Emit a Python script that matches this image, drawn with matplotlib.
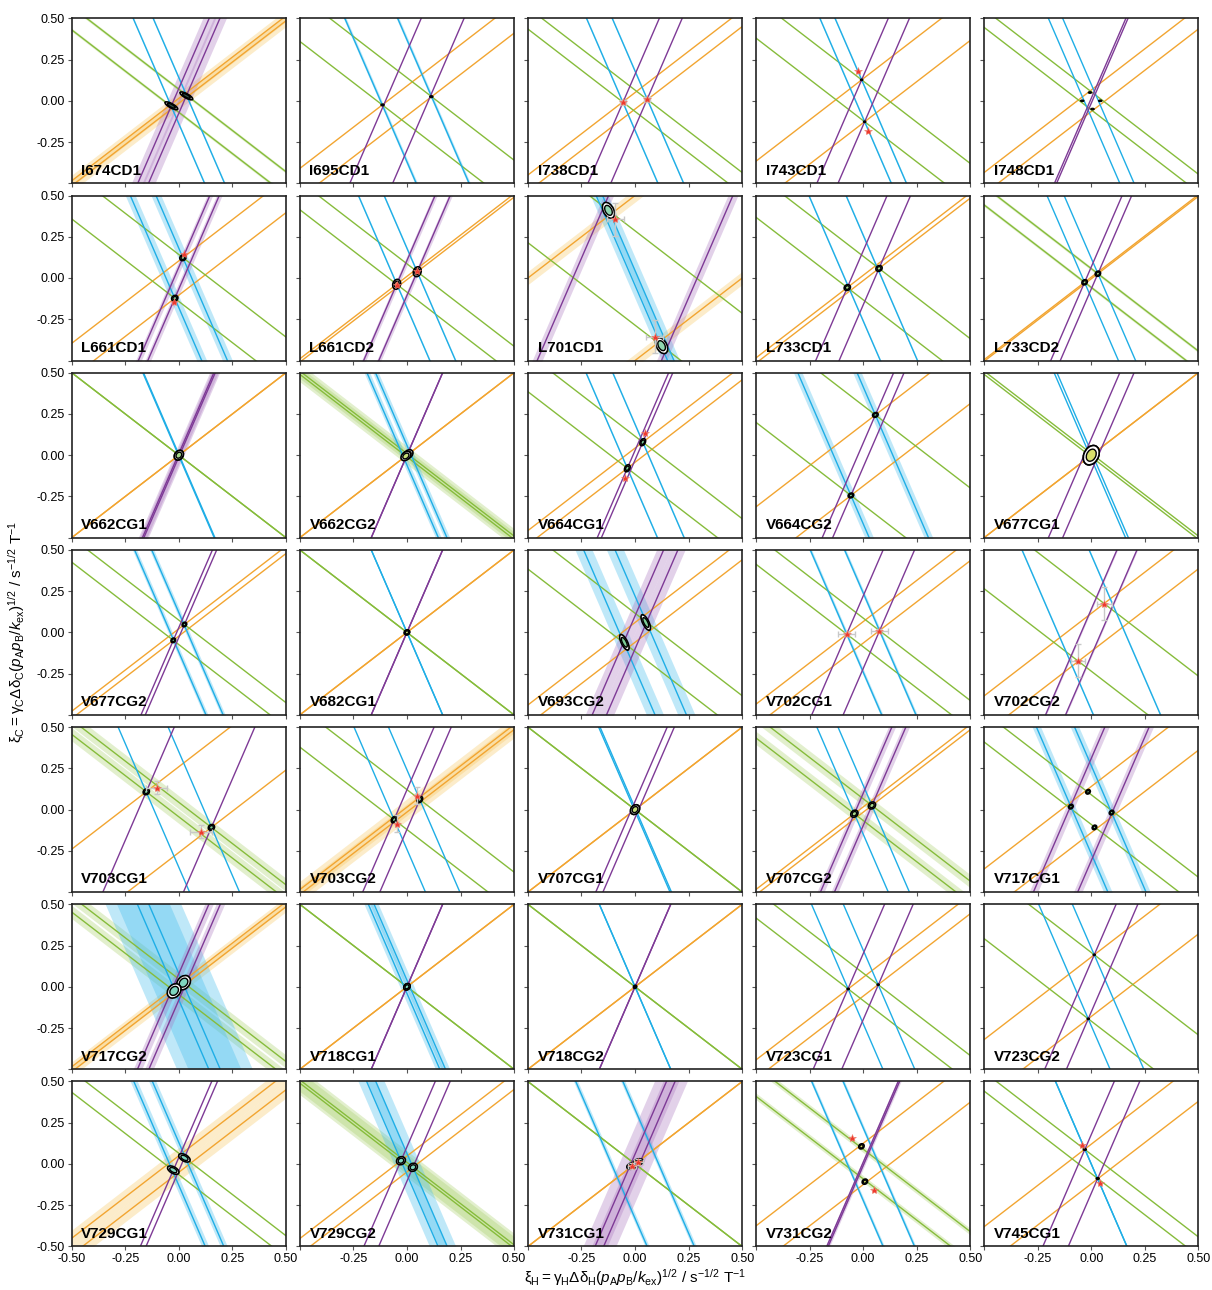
import numpy as np
import matplotlib
matplotlib.use("Agg")
import matplotlib.pyplot as plt
from matplotlib.patches import Ellipse

plt.rcParams['font.family'] = ['Liberation Sans', 'DejaVu Sans']
plt.rcParams['mathtext.fontset'] = 'custom'
plt.rcParams['mathtext.rm'] = 'Liberation Sans'
plt.rcParams['mathtext.it'] = 'Liberation Sans:italic'

# panel names, row by row
names = ['I674CD1', 'I695CD1', 'I738CD1', 'I743CD1', 'I748CD1',
         'L661CD1', 'L661CD2', 'L701CD1', 'L733CD1', 'L733CD2',
         'V662CG1', 'V662CG2', 'V664CG1', 'V664CG2', 'V677CG1',
         'V677CG2', 'V682CG1', 'V693CG2', 'V702CG1', 'V702CG2',
         'V703CG1', 'V703CG2', 'V707CG1', 'V707CG2', 'V717CG1',
         'V717CG2', 'V718CG1', 'V718CG2', 'V723CG1', 'V723CG2',
         'V729CG1', 'V729CG2', 'V731CG1', 'V731CG2', 'V745CG1']

# line offsets (y = m*x +/- c) for each colour
c_orange = [0.015, 0.09, 0.05, 0.134, 0.065,
            0.104, 0.01, 0.50, 0.016, 0.005,
            0.0, 0.0, 0.043, 0.187, 0.0,
            0.022, 0.0, 0.06, 0.065, 0.115,
            0.26, 0.015, 0.0, 0.016, 0.14,
            0.015, 0.0, 0.0, 0.057, 0.18,
            0.05, 0.048, 0.0, 0.125, 0.12]
c_green = [0.07, 0.14, 0.065, 0.12, 0.055,
           0.142, 0.086, 0.286, 0.132, 0.057,
           0.0, 0.01, 0.115, 0.301, 0.01,
           0.074, 0.0, 0.116, 0.087, 0.235,
           0.044, 0.121, 0.0, 0.066, 0.09,
           0.047, 0.0, 0.0, 0.083, 0.208,
           0.065, 0.01, 0.0, 0.09, 0.058]
c_blue = [0.14, 0.37, 0.18, 0.106, 0.10,
          0.18, 0.18, 0.045, 0.26, 0.12,
          0.005, 0.06, 0.187, 0.415, 0.02,
          0.12, 0.0, 0.22, 0.24, 0.47,
          0.35, 0.241, 0.01, 0.148, 0.267,
          0.08, 0.04, 0.0, 0.223, 0.236,
          0.13, 0.064, 0.33, 0.22, 0.0]
c_purple = [0.075, 0.30, 0.16, 0.148, 0.015,
            0.066, 0.106, 0.87, 0.164, 0.067,
            0.01, 0.0, 0.029, 0.073, 0.10,
            0.03, 0.0, 0.10, 0.22, 0.14,
            0.564, 0.12, 0.05, 0.098, 0.31,
            0.08, 0.0, 0.0, 0.20, 0.152,
            0.04, 0.104, 0.06, 0.01, 0.178]

# uncertainty band half-widths
w_orange = [0.035, 0, 0, 0, 0,
            0, 0, 0.04, 0, 0,
            0, 0, 0, 0, 0,
            0, 0, 0, 0, 0,
            0, 0.05, 0, 0, 0,
            0.03, 0, 0, 0, 0,
            0.05, 0, 0, 0, 0]
w_green = [0.01, 0, 0, 0, 0,
           0, 0, 0, 0, 0.01,
           0, 0.045, 0, 0, 0,
           0, 0, 0, 0, 0,
           0.04, 0, 0, 0.04, 0,
           0.04, 0, 0, 0, 0,
           0, 0.07, 0, 0.02, 0]
w_blue = [0.01, 0.02, 0.01, 0.01, 0,
          0.07, 0.01, 0.08, 0.01, 0,
          0, 0.04, 0.01, 0.06, 0,
          0.03, 0, 0.12, 0.02, 0.01,
          0, 0, 0, 0, 0.06,
          0.45, 0.06, 0, 0, 0,
          0.05, 0.12, 0.03, 0.02, 0]
w_purple = [0.09, 0, 0, 0, 0,
            0.04, 0.03, 0.07, 0, 0,
            0.06, 0, 0, 0, 0,
            0, 0, 0.10, 0, 0.01,
            0, 0, 0, 0.05, 0.06,
            0.06, 0, 0, 0, 0,
            0, 0, 0.17, 0.02, 0]

# fitted solutions (+/- pair), kind of marker and ellipse shape
ell_x = [0.035, 0.114, np.nan, -0.007, -0.006,
         0.019, 0.048, -0.124, 0.074, 0.031,
         0.0, 0.005, 0.036, 0.057, 0.0,
         0.026, 0.0, 0.05, np.nan, np.nan,
         -0.152, 0.06, 0.0, 0.041, -0.095,
         0.022, 0.0, 0.0, 0.07, 0.014,
         0.026, -0.028, 0.015, -0.008, -0.03]
ell_y = [0.03, 0.025, np.nan, 0.127, 0.05,
         0.123, 0.038, 0.41, 0.058, 0.026,
         0.0, 0.005, 0.079, 0.244, 0.0,
         0.048, 0.0, 0.06, np.nan, np.nan,
         0.108, 0.061, 0.0, 0.025, 0.018,
         0.025, 0.0, 0.0, 0.013, 0.194,
         0.037, 0.02, 0.012, 0.107, 0.088]
ell_kind = ['ring', 'dot', 'none', 'dot', 'dot',
            'ring', 'ring', 'ring', 'ring', 'ring',
            'ring', 'ring', 'ring', 'ring', 'ring',
            'ring', 'ring', 'ring', 'none', 'none',
            'ring', 'ring', 'ring', 'ring', 'ring',
            'ring', 'ring', 'dot', 'dot', 'dot',
            'ring', 'ring', 'ring', 'ring', 'dot']
ell_major = [0.036, 0.008, 0, 0.006, 0.008,
             0.018, 0.03, 0.05, 0.018, 0.016,
             0.03, 0.03, 0.022, 0.015, 0.06,
             0.014, 0.015, 0.05, 0, 0,
             0.018, 0.02, 0.03, 0.022, 0.014,
             0.045, 0.02, 0.01, 0.006, 0.006,
             0.032, 0.025, 0.025, 0.016, 0.008]
ell_minor = [0.012, 0.006, 0, 0.005, 0.005,
             0.014, 0.018, 0.025, 0.014, 0.012,
             0.02, 0.02, 0.012, 0.012, 0.035,
             0.01, 0.012, 0.015, 0, 0,
             0.014, 0.012, 0.02, 0.016, 0.01,
             0.03, 0.014, 0.008, 0.005, 0.005,
             0.018, 0.02, 0.018, 0.012, 0.006]
ell_angle = [-37, 0, 0, 0, 0,
             72, 80, -72, 70, 70,
             72, 60, 72, 60, 75,
             70, 70, -70, 0, 0,
             70, 70, 72, 70, 70,
             70, 70, 70, 0, 0,
             -42, 70, 30, 70, 0]
ell_fill = ['#2f4f44', '#000000', '#ffffff', '#000000', '#000000',
            '#7fcf9a', '#f08a6a', '#8fd6b0', '#a9d98a', '#a9d98a',
            '#a9d98a', '#c8e07a', '#7fcf9a', '#7fcf9a', '#d8e06a',
            '#7fcf9a', '#c8e07a', '#7fcf9a', '#ffffff', '#ffffff',
            '#7fcf9a', '#7fcf9a', '#c8e07a', '#a9d98a', '#7fcf9a',
            '#7fd6c0', '#7fd6c0', '#000000', '#000000', '#000000',
            '#7fd6c0', '#7fd6c0', '#f4a08a', '#d8e06a', '#000000']

# second solution pair (only for two panels)
ell2_x = {'I748CD1': 0.042, 'V717CG1': -0.015}
ell2_y = {'I748CD1': 0.0, 'V717CG1': 0.108}

# reference values (red stars) with error bars
star_x = {'I738CD1': 0.057, 'I743CD1': -0.022, 'L661CD1': 0.022, 'L661CD2': 0.046,
          'L701CD1': -0.092, 'V664CG1': 0.046, 'V702CG1': 0.076, 'V702CG2': 0.061,
          'V703CG1': -0.103, 'V703CG2': 0.047, 'V731CG1': 0.015, 'V731CG2': -0.052,
          'V745CG1': -0.041}
star_y = {'I738CD1': 0.008, 'I743CD1': 0.183, 'L661CD1': 0.148, 'L661CD2': 0.043,
          'L701CD1': 0.356, 'V664CG1': 0.136, 'V702CG1': 0.011, 'V702CG2': 0.173,
          'V703CG1': 0.133, 'V703CG2': 0.085, 'V731CG1': 0.012, 'V731CG2': 0.157,
          'V745CG1': 0.118}
star_xerr = {'I738CD1': 0.015, 'L701CD1': 0.04, 'V702CG1': 0.04, 'V702CG2': 0.034,
             'V703CG1': 0.05, 'V703CG2': 0.01, 'V731CG1': 0.02}
star_yerr = {'I738CD1': 0.015, 'L701CD1': 0.10, 'V702CG1': 0.012, 'V702CG2': 0.10,
             'V703CG1': 0.04, 'V703CG2': 0.05, 'V731CG1': 0.02}

slopes = [1.0, -1.0, -3.0, 3.0]
line_cols = ['#F2A531', '#86BC3B', '#1FAEE6', '#7E3A96']
band_cols = ['#F7C75E', '#A8D06A', '#3EBBEC', '#A974BE']

W, H = 1212, 1290
col_left = [71.7, 299.8, 527.9, 756.0, 984.1]
row_top = [18.3 + 177.2 * r for r in range(7)]
pw, ph = 214.3, 165.0

fig = plt.figure(figsize=(W / 100, H / 100), dpi=100)
xs = np.linspace(-0.6, 0.6, 50)
ticks = [-0.5, -0.25, 0.0, 0.25, 0.5]

for i, name in enumerate(names):
    r, c = divmod(i, 5)
    ax = fig.add_axes([col_left[c] / W, 1 - (row_top[r] + ph) / H, pw / W, ph / H])
    ax.set_xlim(-0.5, 0.5)
    ax.set_ylim(-0.5, 0.5)

    offs = [c_orange[i], c_green[i], c_blue[i], c_purple[i]]
    wids = [w_orange[i], w_green[i], w_blue[i], w_purple[i]]
    for m, off, wd, lc, bc in zip(slopes, offs, wids, line_cols, band_cols):
        for sgn in (1, -1):
            y0 = m * xs + sgn * off
            if wd > 0:
                ax.fill_between(xs, y0 - wd, y0 + wd, color=bc, alpha=0.33, lw=0, zorder=1)
            ax.plot(xs, y0, color=lc, lw=1.0, zorder=2)

    # fitted solutions
    pts = []
    if ell_kind[i] != 'none':
        pts.append((ell_x[i], ell_y[i]))
    if name in ell2_x:
        pts.append((ell2_x[name], ell2_y[name]))
    for px, py in pts:
        for sgn in (1, -1):
            cx, cy = sgn * px, sgn * py
            if ell_kind[i] == 'dot':
                ax.add_patch(Ellipse((cx, cy), 2 * ell_major[i], 2 * ell_minor[i],
                                     angle=ell_angle[i], fc='black', ec='black', lw=0.8, zorder=4))
            else:
                ax.add_patch(Ellipse((cx, cy), 2 * ell_major[i], 2 * ell_minor[i],
                                     angle=ell_angle[i], fc='white', ec='black', lw=1.2, zorder=4))
                ax.add_patch(Ellipse((cx, cy), 1.25 * ell_major[i], 1.25 * ell_minor[i],
                                     angle=ell_angle[i], fc=ell_fill[i], ec='black', lw=1.0, zorder=4))

    # red stars with error bars
    if name in star_x:
        sx = np.array([star_x[name], -star_x[name]])
        sy = np.array([star_y[name], -star_y[name]])
        if name in star_xerr:
            ax.errorbar(sx, sy, xerr=star_xerr[name], yerr=star_yerr[name], fmt='none',
                        ecolor='#C8C8C8', elinewidth=1.0, capsize=2.5, zorder=5)
        ax.plot(sx, sy, ls='none', marker='*', ms=6, color='#EE3A2E', mec='#F08070',
                mew=0.4, zorder=6)

    ax.text(0.045, 0.035, name, transform=ax.transAxes, fontsize=11,
            fontweight='bold', ha='left', va='bottom', zorder=7)

    ax.set_xticks(ticks)
    ax.set_yticks(ticks)
    if c == 0:
        ylabs = ['%.2f' % t for t in ticks]
        if r < 6:
            ylabs[0] = ''
        ax.set_yticklabels(ylabs)
    else:
        ax.set_yticklabels([])
    if r == 6:
        xlabs = ['%.2f' % t for t in ticks]
        if c > 0:
            xlabs[0] = ''
        ax.set_xticklabels(xlabs)
    else:
        ax.set_xticklabels([])
    ax.tick_params(direction='out', length=3, width=0.8, labelsize=9, pad=2,
                   color='#555555')
    for sp in ax.spines.values():
        sp.set_linewidth(1.2)
        sp.set_color('#222222')

fig.text(635 / W, 1 - 1278 / H,
         r'$\mathrm{\xi_H = \gamma_H\Delta\delta_H(}p_\mathrm{A}p_\mathrm{B}/k_\mathrm{ex}\mathrm{)^{1/2}\ /\ s^{-1/2}\ T^{-1}}$',
         ha='center', va='center', fontsize=11)
fig.text(17 / W, 1 - 632 / H,
         r'$\mathrm{\xi_C = \gamma_C\Delta\delta_C(}p_\mathrm{A}p_\mathrm{B}/k_\mathrm{ex}\mathrm{)^{1/2}\ /\ s^{-1/2}\ T^{-1}}$',
         ha='center', va='center', fontsize=11, rotation=90)

fig.savefig('out.png', dpi=100)
